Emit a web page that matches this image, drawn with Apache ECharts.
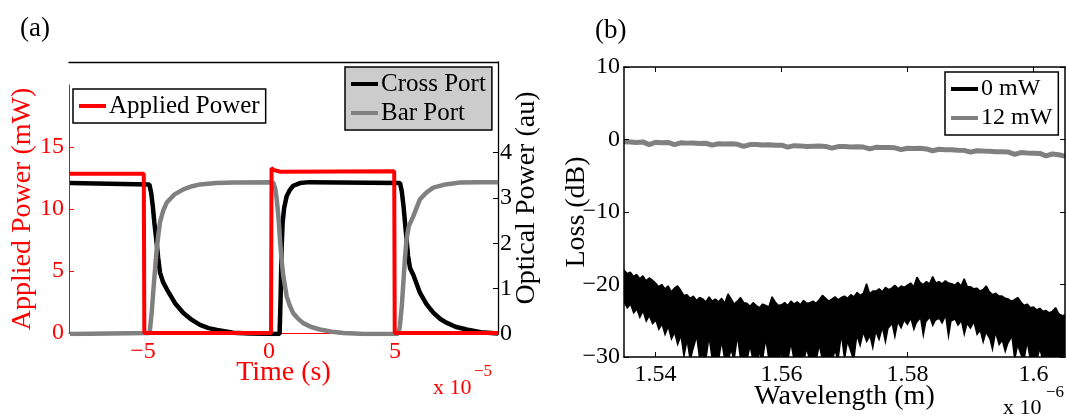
<!DOCTYPE html>
<html>
<head>
<meta charset="utf-8">
<script src="https://cdn.jsdelivr.net/npm/echarts@6/dist/echarts.min.js"></script>
<style>
  html, body { margin: 0; padding: 0; background: #fff; }
  #main { width: 1066px; height: 417px; }
</style>
</head>
<body>
<div id="main"></div>
<script>
// (a) time axis in units of 1e-5 s
const timeApplied = [-7.9, -4.97, -4.95, 0.08, 0.10, 0.18, 0.45, 4.97, 4.99, 9.1];
const appliedPower = [12.85, 12.85, 0, 0, 13.3, 13.15, 13.0, 13.05, 0, 0];

const timeCross = [-7.9, -4.75, -4.68, -4.61, -4.55, -4.5, -4.45, -4.4, -4.33, -4.21, -4.05, -3.73, -3.41, -3.06, -2.74, -2.4, -2.06, -1.43, -0.75,
  0.42, 0.46, 0.5, 0.54, 0.6, 0.7, 0.83, 0.96, 1.23, 1.6,
  5.2, 5.27, 5.34, 5.4, 5.46, 5.52, 5.6, 5.73, 5.99, 6.25, 6.52, 6.8, 7.04, 7.4, 7.84, 8.4, 9.1];
const crossPort = [3.33, 3.3, 3.12, 2.8, 2.45, 2.2, 1.95, 1.68, 1.36, 1.15, 0.98, 0.68, 0.47, 0.31, 0.2, 0.13, 0.09, 0.03, 0.01,
  0, 0.8, 1.9, 2.45, 2.78, 3.04, 3.18, 3.27, 3.33, 3.35,
  3.33, 3.15, 2.82, 2.45, 2.09, 1.72, 1.45, 1.3, 0.91, 0.66, 0.47, 0.33, 0.25, 0.16, 0.1, 0.04, 0.01];

const timeBar = [-7.9, -4.74, -4.66, -4.59, -4.52, -4.46, -4.39, -4.33, -4.2, -4.06, -3.75, -3.4, -3.05, -2.74, -2.1, -1.43,
  0.1, 0.18, 0.25, 0.31, 0.38, 0.44, 0.5, 0.57, 0.7, 0.83, 0.96, 1.15, 1.36, 1.65, 2.02, 2.5, 2.95, 3.8,
  5.12, 5.19, 5.27, 5.34, 5.4, 5.46, 5.55, 5.73, 5.99, 6.25, 6.52, 7.0, 7.58, 8.3, 9.1];
const barPort = [0, 0.02, 0.45, 0.98, 1.45, 1.86, 2.2, 2.46, 2.72, 2.9, 3.08, 3.19, 3.26, 3.3, 3.33, 3.34,
  3.35, 3.33, 3.2, 2.95, 2.55, 2.05, 1.62, 1.27, 0.83, 0.62, 0.46, 0.34, 0.24, 0.16, 0.1, 0.05, 0.02, 0,
  0, 0.15, 0.61, 1.2, 1.7, 2.09, 2.38, 2.6, 2.97, 3.12, 3.23, 3.3, 3.34, 3.35, 3.35];

// (b) wavelength in units of 1e-6 m
const wl0 = [
  1.5350, 1.5355, 1.5360, 1.5365, 1.5370, 1.5375, 1.5380, 1.5385, 1.5390, 1.5395,
  1.5400, 1.5405, 1.5410, 1.5415, 1.5420, 1.5425, 1.5430, 1.5435, 1.5440, 1.5445,
  1.5450, 1.5455, 1.5460, 1.5465, 1.5470, 1.5475, 1.5480, 1.5485, 1.5490, 1.5495,
  1.5500, 1.5505, 1.5510, 1.5515, 1.5520, 1.5525, 1.5530, 1.5535, 1.5540, 1.5545,
  1.5550, 1.5555, 1.5560, 1.5565, 1.5570, 1.5575, 1.5580, 1.5585, 1.5590, 1.5595,
  1.5600, 1.5605, 1.5610, 1.5615, 1.5620, 1.5625, 1.5630, 1.5635, 1.5640, 1.5645,
  1.5650, 1.5655, 1.5660, 1.5665, 1.5670, 1.5675, 1.5680, 1.5685, 1.5690, 1.5695,
  1.5700, 1.5705, 1.5710, 1.5715, 1.5720, 1.5725, 1.5730, 1.5735, 1.5740, 1.5745,
  1.5750, 1.5755, 1.5760, 1.5765, 1.5770, 1.5775, 1.5780, 1.5785, 1.5790, 1.5795,
  1.5800, 1.5805, 1.5810, 1.5815, 1.5820, 1.5825, 1.5830, 1.5835, 1.5840, 1.5845,
  1.5850, 1.5855, 1.5860, 1.5865, 1.5870, 1.5875, 1.5880, 1.5885, 1.5890, 1.5895,
  1.5900, 1.5905, 1.5910, 1.5915, 1.5920, 1.5925, 1.5930, 1.5935, 1.5940, 1.5945,
  1.5950, 1.5955, 1.5960, 1.5965, 1.5970, 1.5975, 1.5980, 1.5985, 1.5990, 1.5995,
  1.6000, 1.6005, 1.6010, 1.6015, 1.6020, 1.6025, 1.6030, 1.6035, 1.6040, 1.6045, 1.6050
];
// upper and lower edge of the noisy 0 mW trace
const top0 = [
  -18.0, -18.5, -18.3, -18.9, -18.6, -19.2, -18.8, -19.5, -19.1, -19.4,
  -19.8, -20.3, -20.0, -20.6, -20.2, -21.0, -20.5, -20.2, -20.8, -21.5,
  -21.4, -21.9, -21.6, -22.2, -21.8, -22.0, -22.4, -21.7, -22.3, -22.0,
  -22.4, -21.9, -22.6, -21.3, -22.0, -22.7, -22.3, -21.8, -22.5, -22.6,
  -23.0, -22.5, -22.9, -23.2, -22.7, -22.9, -23.1, -21.7, -22.4, -22.9,
  -22.8, -22.5, -22.9, -22.3, -22.7, -22.4, -22.8, -22.2, -22.6, -22.5,
  -22.3, -22.6, -22.1, -21.5, -21.9, -22.3, -22.0, -21.7, -22.1, -21.8,
  -21.6, -21.9, -21.4, -21.7, -21.1, -21.5, -21.2, -19.9, -21.3, -20.9,
  -20.9, -20.6, -21.0, -20.4, -20.7, -20.5, -20.1, -20.6, -20.2, -20.4,
  -20.1, -19.8, -20.3, -19.0, -19.7, -20.0, -19.6, -19.9, -18.9, -19.8,
  -19.6, -19.9, -19.5, -19.8, -19.9, -20.1, -19.7, -20.2, -19.2, -20.3,
  -20.3, -20.6, -20.5, -20.9, -20.7, -20.2, -21.0, -21.4, -21.2, -21.6,
  -21.6, -21.9, -22.0, -22.3, -22.1, -21.8, -22.4, -22.9, -22.7, -23.2,
  -23.1, -23.5, -23.3, -23.7, -23.6, -23.9, -23.7, -23.2, -24.0, -24.3, -24.2
];
const bot0 = [
  -22.6, -23.4, -22.9, -24.1, -23.6, -24.8, -23.9, -25.3, -24.5, -25.6,
  -25.1, -26.4, -25.7, -27.2, -26.1, -27.8, -26.9, -28.6, -27.4, -30.5,
  -28.2, -31, -29.1, -27.6, -31, -29.8, -31, -27.9, -31, -30.2,
  -31, -28.4, -31, -31, -29.3, -31, -27.8, -31, -30.6, -31,
  -28.9, -31, -31, -29.7, -31, -28.1, -31, -30.4, -31, -31,
  -29.5, -31, -31, -28.6, -31, -31, -30.1, -31, -29.2, -31,
  -31, -31, -28.8, -31, -30.3, -31, -31, -29.4, -31, -27.6,
  -31, -28.2, -29.5, -31, -27.4, -28.8, -26.9, -28.1, -27.3, -29.2,
  -26.8, -27.9, -26.3, -28.4, -26.1, -25.6, -27.7, -25.4, -26.2, -25.1,
  -25.7, -24.9, -26.5, -25.3, -24.8, -27.6, -25.2, -24.7, -25.9, -25.0,
  -24.8, -25.5, -24.6, -27.8, -25.1, -24.9, -25.8, -25.2, -27.3, -25.6,
  -26.2, -25.4, -27.1, -26.5, -28.3, -26.8, -27.6, -29.4, -27.0, -28.5,
  -27.9, -29.6, -28.2, -27.4, -31, -28.7, -29.9, -31, -28.4, -31,
  -31, -31, -29.2, -31, -31, -31, -31, -31, -31, -31, -31
];
const wl12 = [
  1.535, 1.536, 1.537, 1.538, 1.539, 1.540, 1.541, 1.542, 1.543, 1.544,
  1.545, 1.546, 1.547, 1.548, 1.549, 1.550, 1.551, 1.552, 1.553, 1.554,
  1.555, 1.556, 1.557, 1.558, 1.559, 1.560, 1.561, 1.562, 1.563, 1.564,
  1.565, 1.566, 1.567, 1.568, 1.569, 1.570, 1.571, 1.572, 1.573, 1.574,
  1.575, 1.576, 1.577, 1.578, 1.579, 1.580, 1.581, 1.582, 1.583, 1.584,
  1.585, 1.586, 1.587, 1.588, 1.589, 1.590, 1.591, 1.592, 1.593, 1.594,
  1.595, 1.596, 1.597, 1.598, 1.599, 1.600, 1.601, 1.602, 1.603, 1.604, 1.605
];
const loss12 = [
  -0.30, -0.35, -0.42, -0.33, -0.70, -0.38, -0.45, -0.40, -0.72, -0.46,
  -0.50, -0.48, -0.55, -0.52, -0.78, -0.58, -0.62, -0.60, -0.66, -0.95,
  -0.70, -0.68, -0.75, -0.72, -0.80, -0.78, -1.05, -0.85, -0.88, -0.95,
  -0.92, -0.90, -0.96, -1.20, -0.98, -0.95, -1.02, -1.00, -1.05, -1.30,
  -1.08, -1.10, -1.12, -1.15, -1.40, -1.20, -1.25, -1.22, -1.30, -1.55,
  -1.35, -1.40, -1.42, -1.48, -1.50, -1.75, -1.55, -1.60, -1.62, -1.68,
  -1.70, -1.72, -2.05, -1.80, -1.85, -1.88, -1.92, -2.25, -2.00, -2.10, -2.30
];

const timeTicks = [-5, 0, 5];
const appliedTicks = [0, 5, 10, 15];
const opticalTicks = [0, 1, 2, 3, 4];
const wlTicks = [1.54, 1.56, 1.58, 1.6];

const FONT = 'Liberation Serif';
const RED = '#ff0000';
const GRAY = '#808080';
const minus = (v) => String(v).replace('-', '\u2212');
const pairs = (xs, ys) => xs.map((x, i) => [x, ys[i]]);

const chart = echarts.init(document.getElementById('main'), null, { renderer: 'canvas' });

const legendBase = {
  icon: 'rect',
  itemWidth: 27,
  itemHeight: 4,
  itemGap: 3,
  orient: 'vertical',
  borderColor: '#000',
  borderWidth: 1.5,
  borderRadius: 0,
  padding: [4, 6, 4, 6],
  textStyle: { fontFamily: FONT, fontSize: 25, color: '#000', lineHeight: 26, padding: [0, 0, 0, -2] },
  selectedMode: false
};

// tick labels as rich text so the serif face is used
function labelStyle(color, extra) {
  return Object.assign({
    color: color, fontSize: 24, fontFamily: FONT,
    formatter: (v) => '{t|' + minus(v) + '}',
    rich: { t: { color: color, fontSize: 24, fontFamily: FONT } }
  }, extra);
}

const option = {
  animation: false,
  textStyle: { fontFamily: FONT },
  graphic: [
    { type: 'text', x: 20, y: 29, style: { text: '(a)', fontFamily: FONT, fontSize: 27, fill: '#000', verticalAlign: 'middle' } },
    { type: 'text', x: 595, y: 31, style: { text: '(b)', fontFamily: FONT, fontSize: 27, fill: '#000', verticalAlign: 'middle' } },
    { type: 'text', x: 433, y: 388, style: { text: 'x 10', fontFamily: FONT, fontSize: 22, fill: RED, verticalAlign: 'middle' } },
    { type: 'text', x: 474, y: 372, style: { text: '\u22125', fontFamily: FONT, fontSize: 17, fill: RED, verticalAlign: 'middle' } },
    { type: 'text', x: 1003, y: 408, style: { text: 'x 10', fontFamily: FONT, fontSize: 22, fill: '#000', verticalAlign: 'middle' } },
    { type: 'text', x: 1046, y: 393, style: { text: '\u22126', fontFamily: FONT, fontSize: 17, fill: '#000', verticalAlign: 'middle' } }
  ],
  legend: [
    Object.assign({}, legendBase, { data: ['Applied Power'], left: 73, top: 89, backgroundColor: '#fff' }),
    Object.assign({}, legendBase, { data: ['Cross Port', 'Bar Port'], left: 345, top: 67, backgroundColor: '#cccccc' }),
    Object.assign({}, legendBase, { data: ['0 mW', '12 mW'], left: 945, top: 72, backgroundColor: '#fff',
      textStyle: Object.assign({}, legendBase.textStyle, { fontSize: 24 }) })
  ],
  grid: [
    { left: 69, right: 568, top: 85, bottom: 84, outerBoundsMode: 'none' },
    { left: 69, right: 568, top: 62, bottom: 83, outerBoundsMode: 'none' },
    { left: 624, right: 1, top: 67, bottom: 60, outerBoundsMode: 'none' }
  ],
  xAxis: [
    {
      gridIndex: 0, type: 'value', min: -7.94, max: 9.09, position: 'bottom',
      name: 'Time (s)', nameLocation: 'middle', nameGap: 26, nameMoveOverlap: false,
      nameTextStyle: { color: RED, fontSize: 28, fontFamily: FONT },
      axisLine: { onZero: false, lineStyle: { color: RED, width: 1 } },
      axisTick: { inside: true, length: 5, customValues: timeTicks, lineStyle: { color: RED } },
      axisLabel: labelStyle(RED, { customValues: timeTicks, margin: 7 }),
      splitLine: { show: false }
    },
    {
      gridIndex: 1, type: 'value', min: -7.94, max: 9.09, position: 'top',
      axisLine: { onZero: false, lineStyle: { color: '#000', width: 1.3 } },
      axisTick: { show: false }, axisLabel: { show: false }, splitLine: { show: false }
    },
    {
      gridIndex: 2, type: 'value', min: 1.535, max: 1.605, position: 'bottom', z: 10,
      name: 'Wavelength (m)', nameLocation: 'middle', nameGap: 26, nameMoveOverlap: false,
      nameTextStyle: { color: '#000', fontSize: 28, fontFamily: FONT },
      axisLine: { onZero: false, lineStyle: { color: '#000', width: 1.5 } },
      axisTick: { inside: true, length: 5, customValues: wlTicks, lineStyle: { color: '#000' } },
      axisLabel: labelStyle('#000', { customValues: wlTicks, margin: 6 }),
      splitLine: { show: false }
    },
    {
      gridIndex: 2, type: 'value', min: 1.535, max: 1.605, position: 'top', z: 10,
      axisLine: { onZero: false, lineStyle: { color: '#000', width: 1.5 } },
      axisTick: { inside: true, length: 5, customValues: wlTicks, lineStyle: { color: '#000' } },
      axisLabel: { show: false }, splitLine: { show: false }
    }
  ],
  yAxis: [
    {
      gridIndex: 0, type: 'value', min: 0, max: 20, position: 'left',
      name: 'Applied Power (mW)', nameLocation: 'middle', nameGap: 32, nameRotate: 90, nameMoveOverlap: false,
      nameTextStyle: { color: RED, fontSize: 28, fontFamily: FONT },
      axisLine: { show: true, onZero: false, lineStyle: { color: RED, width: 1 } },
      axisTick: { show: true, inside: true, length: 5, customValues: appliedTicks, lineStyle: { color: RED } },
      axisLabel: labelStyle(RED, { customValues: appliedTicks, margin: 5 }),
      splitLine: { show: false }
    },
    {
      gridIndex: 1, type: 'value', min: 0, max: 6, position: 'right',
      name: 'Optical Power (au)', nameLocation: 'middle', nameGap: 15, nameRotate: 90, nameMoveOverlap: false,
      nameTextStyle: { color: '#000', fontSize: 28, fontFamily: FONT },
      axisLine: { show: true, onZero: false, lineStyle: { color: '#000', width: 1.3 } },
      axisTick: { show: true, inside: true, length: 5, customValues: opticalTicks, lineStyle: { color: '#000' } },
      axisLabel: labelStyle('#000', { customValues: opticalTicks, margin: 2 }),
      splitLine: { show: false }
    },
    {
      gridIndex: 2, type: 'value', min: -30, max: 10, interval: 10, position: 'left', z: 10,
      name: 'Loss (dB)', nameLocation: 'middle', nameGap: 33, nameRotate: 90, nameMoveOverlap: false,
      nameTextStyle: { color: '#000', fontSize: 28, fontFamily: FONT },
      axisLine: { show: true, onZero: false, lineStyle: { color: '#000', width: 1.5 } },
      axisTick: { show: true, inside: true, length: 5, lineStyle: { color: '#000' } },
      axisLabel: labelStyle('#000', { margin: 4 }),
      splitLine: { show: false }
    },
    {
      gridIndex: 2, type: 'value', min: -30, max: 10, interval: 10, position: 'right', z: 10,
      axisLine: { show: true, onZero: false, lineStyle: { color: '#000', width: 1.5 } },
      axisTick: { show: true, inside: true, length: 5, lineStyle: { color: '#000' } },
      axisLabel: { show: false }, splitLine: { show: false }
    }
  ],
  series: [
    {
      name: 'Cross Port', type: 'line', xAxisIndex: 1, yAxisIndex: 1, symbol: 'none', z: 2,
      data: pairs(timeCross, crossPort),
      lineStyle: { color: '#000', width: 4.5 }, itemStyle: { color: '#000' }
    },
    {
      name: 'Bar Port', type: 'line', xAxisIndex: 1, yAxisIndex: 1, symbol: 'none', z: 3,
      data: pairs(timeBar, barPort),
      lineStyle: { color: GRAY, width: 4.5 }, itemStyle: { color: GRAY }
    },
    {
      name: 'Applied Power', type: 'line', xAxisIndex: 0, yAxisIndex: 0, symbol: 'none', z: 4,
      data: pairs(timeApplied, appliedPower),
      lineStyle: { color: RED, width: 4 }, itemStyle: { color: RED }
    },
    {
      // black band from the upper edge down to the axis floor
      name: '0 mW', type: 'line', xAxisIndex: 2, yAxisIndex: 2, symbol: 'none', z: 2,
      data: pairs(wl0, top0),
      lineStyle: { color: '#000', width: 1.5 }, itemStyle: { color: '#000' },
      areaStyle: { color: '#000', opacity: 1, origin: 'start' }
    },
    {
      // white mask below the lower edge, leaves the noisy band
      name: '0 mW floor', type: 'line', xAxisIndex: 2, yAxisIndex: 2, symbol: 'none', z: 3,
      data: pairs(wl0, bot0),
      lineStyle: { width: 0, opacity: 0 }, itemStyle: { color: '#fff' },
      areaStyle: { color: '#fff', opacity: 1, origin: 'start' }
    },
    {
      name: '12 mW', type: 'line', xAxisIndex: 2, yAxisIndex: 2, symbol: 'none', z: 4,
      data: pairs(wl12, loss12),
      lineStyle: { color: GRAY, width: 5 }, itemStyle: { color: GRAY }
    }
  ]
};

chart.setOption(option);
</script>
</body>
</html>
